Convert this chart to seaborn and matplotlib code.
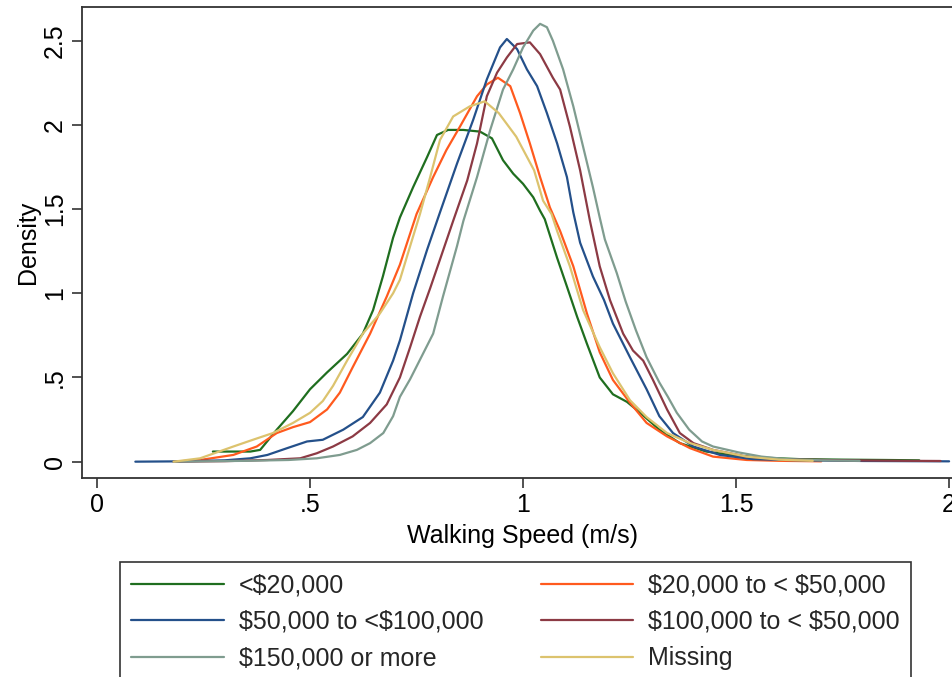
import numpy as np
import pandas as pd
import matplotlib
matplotlib.use("Agg")
import matplotlib.pyplot as plt
import seaborn as sns

# Kernel density curves of walking speed by household income group
lt20_x = [0.272, 0.36, 0.383, 0.422, 0.46, 0.50, 0.54, 0.587, 0.624, 0.648, 0.671, 0.695, 0.711,
          0.742, 0.775, 0.798, 0.824, 0.86, 0.899, 0.927, 0.953, 0.977, 1.0, 1.024, 1.04, 1.051,
          1.08, 1.103, 1.127, 1.15, 1.18, 1.211, 1.244, 1.275, 1.32, 1.368, 1.43, 1.486, 1.55,
          1.65, 1.75, 1.85, 1.93]
lt20_y = [0.06, 0.06, 0.07, 0.19, 0.30, 0.43, 0.53, 0.64, 0.76, 0.90, 1.10, 1.33, 1.45,
          1.63, 1.81, 1.94, 1.97, 1.97, 1.96, 1.92, 1.79, 1.71, 1.65, 1.57, 1.49, 1.44,
          1.21, 1.04, 0.86, 0.70, 0.50, 0.40, 0.355, 0.29, 0.19, 0.11, 0.06, 0.04, 0.025,
          0.015, 0.012, 0.01, 0.008]

i20_50_x = [0.18, 0.242, 0.32, 0.375, 0.422, 0.46, 0.50, 0.54, 0.57, 0.60, 0.641, 0.68, 0.711,
            0.75, 0.789, 0.82, 0.852, 0.892, 0.915, 0.941, 0.97, 0.993, 1.016, 1.04, 1.063,
            1.087, 1.118, 1.15, 1.18, 1.211, 1.251, 1.29, 1.338, 1.392, 1.446, 1.525, 1.6, 1.7]
i20_50_y = [0.0, 0.01, 0.04, 0.09, 0.17, 0.205, 0.235, 0.31, 0.41, 0.56, 0.76, 0.98, 1.17,
            1.47, 1.69, 1.85, 1.99, 2.17, 2.24, 2.28, 2.23, 2.07, 1.89, 1.69, 1.51,
            1.37, 1.16, 0.88, 0.65, 0.485, 0.35, 0.23, 0.15, 0.08, 0.03, 0.01, 0.005, 0.002]

i50_100_x = [0.09, 0.2, 0.3, 0.36, 0.40, 0.446, 0.493, 0.53, 0.578, 0.624, 0.664, 0.695, 0.711,
             0.742, 0.775, 0.805, 0.845, 0.883, 0.915, 0.946, 0.962, 0.986, 1.009, 1.033, 1.056,
             1.08, 1.103, 1.118, 1.134, 1.146, 1.164, 1.19, 1.211, 1.251, 1.29, 1.32, 1.352,
             1.40, 1.462, 1.54, 1.65, 1.8, 2.0]
i50_100_y = [0.0, 0.002, 0.008, 0.02, 0.04, 0.08, 0.12, 0.13, 0.19, 0.265, 0.41, 0.60, 0.72,
             1.0, 1.26, 1.48, 1.77, 2.03, 2.27, 2.46, 2.51, 2.45, 2.33, 2.23, 2.07,
             1.89, 1.69, 1.48, 1.30, 1.22, 1.10, 0.96, 0.82, 0.62, 0.43, 0.27, 0.17,
             0.09, 0.04, 0.015, 0.008, 0.004, 0.002]

i100_150_x = [0.18, 0.30, 0.40, 0.477, 0.516, 0.554, 0.60, 0.641, 0.68, 0.711, 0.735, 0.758,
              0.782, 0.805, 0.836, 0.869, 0.892, 0.915, 0.939, 0.962, 0.986, 1.016, 1.04, 1.07,
              1.087, 1.11, 1.134, 1.157, 1.18, 1.204, 1.235, 1.258, 1.282, 1.305, 1.338, 1.368,
              1.40, 1.446, 1.525, 1.60, 1.75, 1.90, 1.98]
i100_150_y = [0.0, 0.003, 0.01, 0.02, 0.05, 0.09, 0.15, 0.23, 0.34, 0.50, 0.68, 0.86,
              1.03, 1.20, 1.43, 1.67, 1.89, 2.17, 2.31, 2.40, 2.48, 2.49, 2.42, 2.28,
              2.21, 1.99, 1.73, 1.43, 1.16, 0.96, 0.76, 0.66, 0.60, 0.485, 0.31, 0.17,
              0.11, 0.07, 0.03, 0.015, 0.008, 0.005, 0.004]

i150_x = [0.18, 0.35, 0.45, 0.516, 0.57, 0.61, 0.641, 0.672, 0.695, 0.711, 0.735, 0.765, 0.789,
          0.812, 0.845, 0.86, 0.892, 0.923, 0.953, 0.977, 1.0, 1.024, 1.04, 1.056, 1.07, 1.094,
          1.118, 1.141, 1.164, 1.18, 1.192, 1.22, 1.241, 1.265, 1.29, 1.32, 1.34, 1.361, 1.39,
          1.42, 1.446, 1.506, 1.56, 1.62, 1.70, 1.79]
i150_y = [0.0, 0.005, 0.01, 0.02, 0.04, 0.07, 0.11, 0.17, 0.27, 0.385, 0.49, 0.64, 0.76,
          0.98, 1.28, 1.43, 1.69, 1.97, 2.21, 2.33, 2.46, 2.56, 2.60, 2.58, 2.50, 2.33,
          2.11, 1.87, 1.63, 1.45, 1.32, 1.12, 0.95, 0.78, 0.62, 0.47, 0.385, 0.29, 0.19,
          0.12, 0.09, 0.055, 0.03, 0.015, 0.008, 0.005]

missing_x = [0.18, 0.242, 0.32, 0.366, 0.413, 0.46, 0.50, 0.53, 0.554, 0.587, 0.624, 0.664,
             0.695, 0.711, 0.735, 0.758, 0.782, 0.805, 0.836, 0.875, 0.91, 0.943, 0.984, 1.026,
             1.047, 1.067, 1.08, 1.11, 1.141, 1.18, 1.211, 1.251, 1.29, 1.338, 1.392, 1.446,
             1.525, 1.6, 1.68]
missing_y = [0.0, 0.02, 0.09, 0.13, 0.17, 0.23, 0.29, 0.36, 0.45, 0.60, 0.76, 0.88,
             1.0, 1.08, 1.28, 1.47, 1.69, 1.91, 2.05, 2.11, 2.14, 2.07, 1.93, 1.73,
             1.55, 1.47, 1.37, 1.16, 0.90, 0.68, 0.525, 0.365, 0.265, 0.17, 0.11, 0.07,
             0.03, 0.012, 0.005]

groups = ["<$20,000", "$20,000 to < $50,000", "$50,000 to <$100,000",
          "$100,000 to < $50,000", "$150,000 or more", "Missing"]
colors = ["#1f6e1f", "#ff5a1e", "#24508a", "#8c3a44", "#7f9c8f", "#dcc36e"]

x_ticks = [0, 0.5, 1, 1.5, 2]
x_tick_labels = ["0", ".5", "1", "1.5", "2"]
y_ticks = [0, 0.5, 1, 1.5, 2, 2.5]
y_tick_labels = ["0", ".5", "1", "1.5", "2", "2.5"]

series = [(lt20_x, lt20_y), (i20_50_x, i20_50_y), (i50_100_x, i50_100_y),
          (i100_150_x, i100_150_y), (i150_x, i150_y), (missing_x, missing_y)]
df = pd.concat(
    [pd.DataFrame({"speed": xs, "density": ys, "group": g}) for g, (xs, ys) in zip(groups, series)],
    ignore_index=True,
)

sns.set_theme(style="white")
plt.rcParams["font.family"] = ["Liberation Sans", "DejaVu Sans"]
plt.rcParams["text.parse_math"] = False  # dollar signs are literal currency symbols

W, H = 953, 677
fig = plt.figure(figsize=(W / 100, H / 100), dpi=100)
fig.patch.set_facecolor("white")

# axes box in pixel terms: left 82, right 964 (runs past the figure edge), top 7, bottom 478
ax = fig.add_axes([82 / W, (H - 478) / H, (964 - 82) / W, (478 - 7) / H])

sns.lineplot(data=df, x="speed", y="density", hue="group", hue_order=groups,
             palette=dict(zip(groups, colors)), estimator=None, sort=False,
             linewidth=1.6, legend=False, ax=ax)
for ln in ax.get_lines():
    ln.set_solid_joinstyle("round")
    ln.set_solid_capstyle("round")

ax.set_xlim(-0.0352, 2.035)
ax.set_ylim(-0.097, 2.70)
ax.set_xticks(x_ticks)
ax.set_xticklabels(x_tick_labels)
ax.set_yticks(y_ticks)
ax.set_yticklabels(y_tick_labels, rotation=90, va="center")

fs = 18
ax.tick_params(axis="both", which="major", direction="out", length=7, width=1.1,
               color="#222222", labelsize=fs, labelcolor="black")
ax.tick_params(axis="x", pad=4)
ax.tick_params(axis="y", pad=4)
ax.tick_params(bottom=True, left=True)
for s in ax.spines.values():
    s.set_visible(True)
    s.set_color("#333333")
    s.set_linewidth(1.3)

ax.set_xlabel("Walking Speed (m/s)", fontsize=fs, labelpad=5, color="black")
ax.set_ylabel("Density", fontsize=fs, labelpad=2, color="black")
ax.grid(False)

# legend laid out row-wise: two columns, three rows
lines = ax.get_lines()
order = [0, 2, 4, 1, 3, 5]
leg = fig.legend([lines[i] for i in order], [groups[i] for i in order],
                 loc="upper left", bbox_to_anchor=(120 / W, 1 - 562 / H),
                 bbox_transform=fig.transFigure, ncol=2, fontsize=fs,
                 frameon=True, fancybox=False, framealpha=1, edgecolor="#333333",
                 handlelength=3.7, handletextpad=0.6, columnspacing=2.3,
                 labelspacing=0.5, borderpad=0.45, borderaxespad=0)
leg.get_frame().set_linewidth(1.2)
for lh in leg.get_lines():
    lh.set_linewidth(1.6)

fig.savefig("out.png", dpi=100, facecolor="white")
